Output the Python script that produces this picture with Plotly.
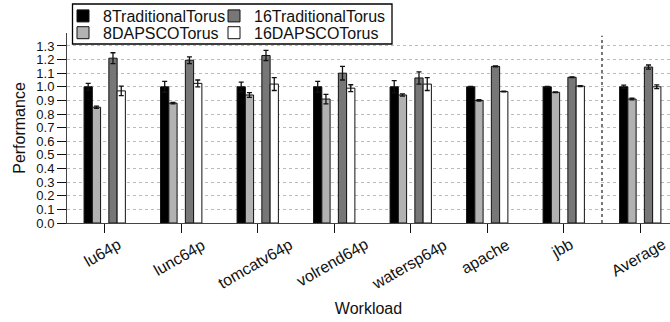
import plotly.graph_objects as go

categories = ["lu64p", "lunc64p", "tomcatv64p", "volrend64p", "watersp64p", "apache", "jbb", "Average"]

trad8 = [1.0, 1.0, 1.0, 1.0, 1.0, 1.0, 1.0, 1.0]
trad8_err = [0.025, 0.04, 0.035, 0.04, 0.045, 0.003, 0.003, 0.012]

dap8 = [0.85, 0.88, 0.94, 0.91, 0.94, 0.90, 0.96, 0.91]
dap8_err = [0.008, 0.005, 0.017, 0.035, 0.008, 0.005, 0.003, 0.006]

trad16 = [1.21, 1.195, 1.23, 1.10, 1.065, 1.15, 1.07, 1.145]
trad16_err = [0.04, 0.025, 0.037, 0.05, 0.045, 0.003, 0.003, 0.015]

dap16 = [0.97, 1.025, 1.02, 0.99, 1.02, 0.965, 1.005, 1.0]
dap16_err = [0.035, 0.025, 0.047, 0.025, 0.047, 0.003, 0.003, 0.014]

spacer = [0, 0, 0, 0, 0, 0, 0, 0]

FONT = "Liberation Sans, Arial, sans-serif"

W, H = 670, 322
ML, MR, MT, MB = 67, 0, 33, 99
PW = W - ML - MR
PH = H - MT - MB


def px_x(p):
    return (p - ML) / PW


def px_y(p):
    return (H - MB - p) / PH


def bar(name, y, err, color, legend, lw):
    return go.Bar(
        x=categories, y=y, name=name, legend=legend, legendwidth=lw,
        marker=dict(color=color, line=dict(color="#111", width=1)),
        error_y=dict(type="data", array=err, visible=True,
                     color="#111", thickness=1.3, width=2.5),
    )


fig = go.Figure()
fig.add_trace(bar("8TraditionalTorus", trad8, trad8_err, "#000000", "legend", 106))
fig.add_trace(bar("8DAPSCOTorus", dap8, dap8_err, "#b2b2b2", "legend2", 106))
fig.add_trace(go.Bar(x=categories, y=spacer, name="spacer", showlegend=False,
                     marker=dict(color="rgba(0,0,0,0)", line=dict(width=0)),
                     hoverinfo="skip"))
fig.add_trace(bar("16TraditionalTorus", trad16, trad16_err, "#777777", "legend", 150))
fig.add_trace(bar("16DAPSCOTorus", dap16, dap16_err, "#ffffff", "legend2", 150))

# tick labels as rotated annotations centred on the ticks
for c in categories:
    fig.add_annotation(x=c, xref="x", y=px_y(233), yref="paper",
                       text=c, showarrow=False, textangle=-30,
                       xanchor="center", yanchor="top", xshift=-2,
                       font=dict(family=FONT, size=16, color="#111"))

# separator before Average
fig.add_shape(type="line", xref="x", yref="paper", x0=6.5, x1=6.5, y0=0, y1=0.985,
              line=dict(color="#777", width=2, dash="dot"), layer="above")

# legend frame
fig.add_shape(type="rect", xref="paper", yref="paper",
              x0=px_x(72.5), x1=px_x(392), y0=px_y(44), y1=px_y(4),
              line=dict(color="#000", width=1.3), fillcolor="white", layer="above")

legend_common = dict(orientation="h", xanchor="left", yanchor="middle",
                     bgcolor="rgba(0,0,0,0)", borderwidth=0,
                     font=dict(family=FONT, size=16, color="#111"),
                     itemclick=False, itemdoubleclick=False)

fig.update_layout(
    width=W, height=H,
    margin=dict(l=ML, r=MR, t=MT, b=MB, autoexpand=False),
    paper_bgcolor="white", plot_bgcolor="white",
    barmode="group", bargap=0.46, bargroupgap=0,
    font=dict(family=FONT, size=16, color="#111"),
    legend=dict(x=px_x(63), y=px_y(16), **legend_common),
    legend2=dict(x=px_x(63), y=px_y(32.8), **legend_common),
    xaxis=dict(type="category", range=[-0.493, 7.389], showline=True,
               linecolor="#444", linewidth=1, ticks="outside", ticklen=9,
               tickcolor="#111", showticklabels=False, showgrid=False,
               title=dict(text="Workload", font=dict(family=FONT, size=16),
                          standoff=70)),
    yaxis=dict(range=[0, 1.395], dtick=0.1, tick0=0, tickformat=".1f",
               showline=True, linecolor="#444", linewidth=1,
               ticks="outside", ticklen=9, tickcolor="#111",
               tickfont=dict(family=FONT, size=13, color="#111"),
               showgrid=True, gridcolor="#bbbbbb", griddash="dot", gridwidth=1,
               zeroline=False,
               title=dict(text="Performance", font=dict(family=FONT, size=16),
                          standoff=6)),
)

fig.write_html("out.html")
